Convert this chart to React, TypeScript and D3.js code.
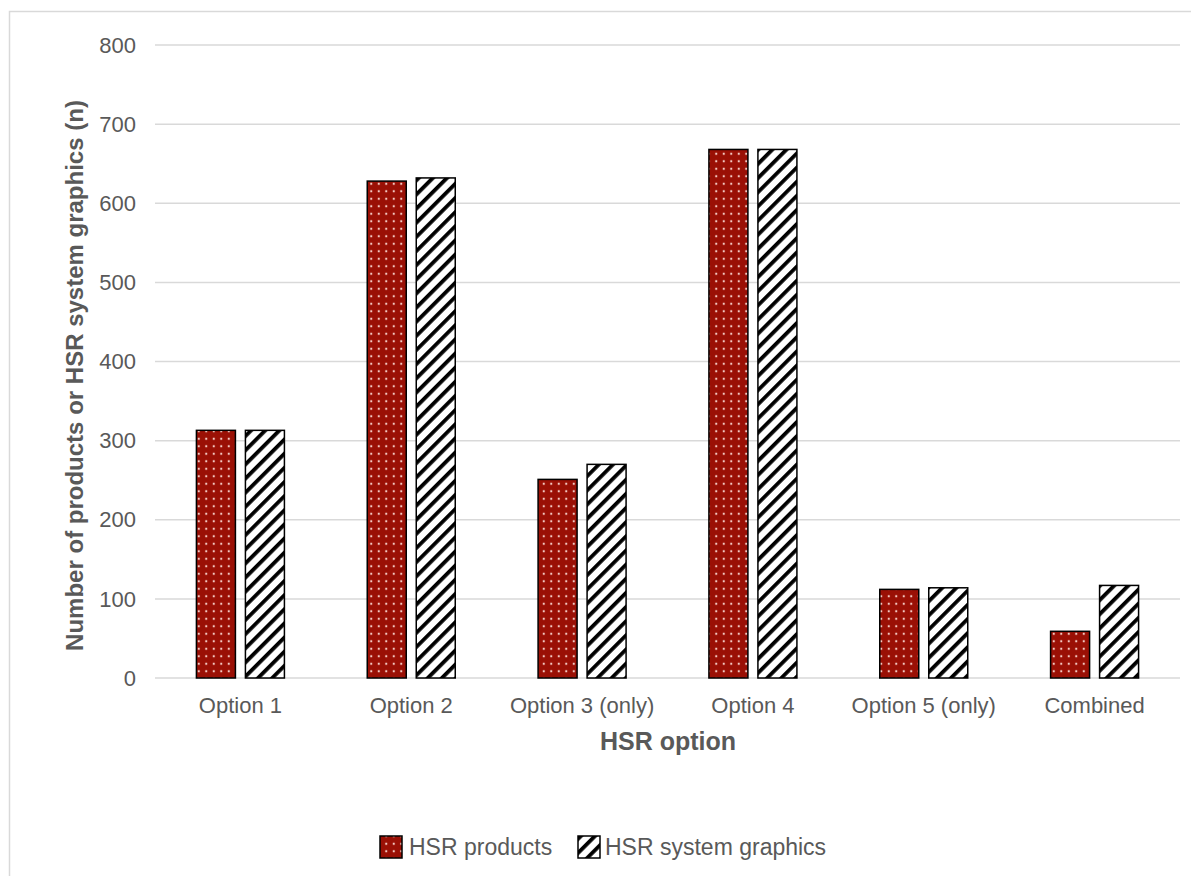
import React from "react";
import * as d3 from "d3";

const categories = ["Option 1", "Option 2", "Option 3 (only)", "Option 4", "Option 5 (only)", "Combined"];
const productsValues = [313, 628, 251, 668, 112, 59];
const graphicsValues = [313, 632, 270, 668, 114, 117];
const yTicks = [0, 100, 200, 300, 400, 500, 600, 700, 800];
const seriesNames = ["HSR products", "HSR system graphics"];

const W = 1191;
const H = 876;
const margin = { left: 155, right: 11, top: 45, bottom: 198 };

export default function App() {
  const x = d3.scaleBand<string>().domain(categories).range([margin.left, W - margin.right]).paddingInner(0).paddingOuter(0);
  const y = d3.scaleLinear().domain([0, 800]).range([H - margin.bottom, margin.top]);
  const barW = 39;
  const gap = 10;
  const font = "'Liberation Sans', Arial, sans-serif";
  const textColor = "#595959";
  const xLeft = margin.left;
  const xRight = W - margin.right;
  return (
    <svg width={W} height={H} style={{ position: "absolute", left: 0, top: 0, background: "#fff" }} fontFamily={font}>
      <defs>
        <pattern id="dots" patternUnits="userSpaceOnUse" width="7.5" height="7.5">
          <rect width="7.5" height="7.5" fill="#9a1005" />
          <circle cx="3.75" cy="3.75" r="1.1" fill="#f6cfc8" />
        </pattern>
        <pattern id="hatch" patternUnits="userSpaceOnUse" width="10" height="10" patternTransform="rotate(45)">
          <rect width="10" height="10" fill="#fff" />
          <rect x="0" y="0" width="3.8" height="10" fill="#000" />
        </pattern>
      </defs>
      <rect x={9.5} y={11.5} width={W} height={H} fill="#fff" stroke="#d9d9d9" strokeWidth={1.5} />
      {yTicks.map((t) => (
        <g key={t}>
          <line x1={xLeft} x2={xRight} y1={y(t)} y2={y(t)} stroke="#d9d9d9" strokeWidth={1.5} />
          <text x={136} y={y(t)} dy="0.35em" textAnchor="end" fontSize={22} fill={textColor}>{t}</text>
        </g>
      ))}
      {categories.map((c, i) => {
        const cx = (x(c) as number) + x.bandwidth() / 2;
        const y0 = y(0);
        return (
          <g key={c}>
            <rect x={cx - gap / 2 - barW} y={y(productsValues[i])} width={barW} height={y0 - y(productsValues[i])} fill="url(#dots)" stroke="#000" strokeWidth={1.5} />
            <rect x={cx + gap / 2} y={y(graphicsValues[i])} width={barW} height={y0 - y(graphicsValues[i])} fill="url(#hatch)" stroke="#000" strokeWidth={1.5} />
            <text x={cx} y={713} textAnchor="middle" fontSize={22} fill={textColor}>{c}</text>
          </g>
        );
      })}
      <text x={668} y={750} textAnchor="middle" fontSize={25} fontWeight="bold" fill={textColor}>HSR option</text>
      <text transform={`translate(83, ${(y(0) + y(800)) / 2 + 14}) rotate(-90)`} textAnchor="middle" fontSize={24} fontWeight="bold" fill={textColor}>
        Number of products or HSR system graphics (n)
      </text>
      <g>
        <rect x={380} y={836} width={22} height={22} fill="url(#dots)" stroke="#000" strokeWidth={1.5} />
        <text x={409} y={855} fontSize={23} fill={textColor}>{seriesNames[0]}</text>
        <rect x={578} y={836} width={22} height={22} fill="url(#hatch)" stroke="#000" strokeWidth={1.5} />
        <text x={605} y={855} fontSize={23} fill={textColor}>{seriesNames[1]}</text>
      </g>
    </svg>
  );
}
